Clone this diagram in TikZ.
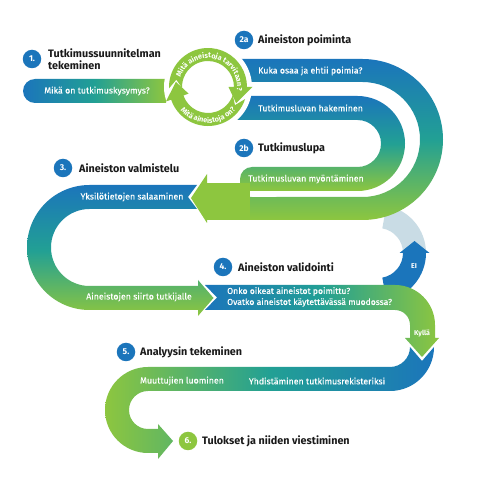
\documentclass[tikz,border=0pt]{standalone}
\usepackage{fontspec}
\setmainfont{Fira Sans}
\newfontfamily\bandfont{Fira Sans}[FakeBold=0.25]
\usetikzlibrary{decorations.text}
\definecolor{cblue}{HTML}{1B75BB}
\definecolor{cteal}{HTML}{22A094}
\definecolor{cgreen}{HTML}{8DC63F}
\definecolor{clight}{HTML}{C9DCE5}
\definecolor{ctitle}{HTML}{1A1A1A}
\newcommand\ringfont{\color{white}\bfseries\fontsize{7.3}{8}\selectfont}
\begin{document}
\begin{tikzpicture}[x=1pt,y=1pt,
  numc/.style={circle,fill=cblue,minimum size=18.5pt,inner sep=0pt,text=white,font=\bfseries\fontsize{8.5}{8.5}\selectfont},
  ttl/.style={anchor=west,inner sep=0pt,text=ctitle,font=\bfseries\fontsize{10.8}{12}\selectfont,align=left},
  btxt/.style={inner sep=0pt,text=white,font=\bandfont\fontsize{8.8}{10}\selectfont},
  vgrad/.style={top color=cblue,bottom color=cgreen,middle color=cteal},
  hgradBG/.style={left color=cblue,right color=cgreen,middle color=cteal},
  hgradGB/.style={left color=cgreen,right color=cblue,middle color=cteal},
  smalllbl/.style={inner sep=0pt,text=white,font=\bfseries\fontsize{7}{8}\selectfont},
]
\fill[white] (0,0) rectangle (480,483);
\useasboundingbox (0,0) rectangle (480,483);

% EI return ring
\begin{scope}[shift={(378,230)}]
  \fill[clight] (0:48) arc[start angle=0,end angle=80,radius=48] -- (80:25) arc[start angle=80,end angle=0,radius=25] -- cycle;
  \fill[cblue] (-80:25) -- (-80:48) arc[start angle=-80,end angle=0,radius=48] -- (51.5,0) -- (36.5,12) -- (21.5,0) -- (25,0) arc[start angle=0,end angle=-80,radius=25] -- cycle;
\end{scope}

% 2a / 2b : outer and inner U
\shade[vgrad] (230,424) -- (362.5,424) arc[start angle=90,end angle=-90,radius=80.5] -- (245,263) -- (245,286) -- (362.5,286) arc[start angle=-90,end angle=90,radius=57.5] -- (230,401) -- cycle;
\shade[vgrad] (230,387) -- (357.5,387) arc[start angle=90,end angle=-90,radius=47.5] -- (240,292) -- (240,304) arc[start angle=180,end angle=90,radius=12] -- (357.5,316) arc[start angle=-90,end angle=90,radius=23.5] -- (230,363) -- cycle;
\fill[cgreen] (206,263) rectangle (250,300);
\fill[cgreen] (191,285) -- (207,309) -- (207,260) -- cycle;
\draw[white,line width=6pt,line cap=round] (253,289) -- (275,289);

% band 1
\shade[hgradBG] (166,404) -- (35,404) arc[start angle=90,end angle=270,radius=12] -- (166,380) -- cycle;

% white gap round the cycle
\fill[white] (208,396) circle[radius=44];

% cycle arrows
\begin{scope}[shift={(208,396)}]
  \fill[cgreen] (182:39) arc[start angle=182,end angle=0,radius=39] -- (0:44.5) -- (-30:32.5) -- (0:20.5) -- (0:26) arc[start angle=0,end angle=182,radius=26] -- (167:32.5) -- cycle;
  \fill[cgreen] (-18:39) arc[start angle=-18,end angle=-161,radius=39] -- (-161:44.5) -- (-189:32.5) -- (-161:20.5) -- (-161:26) arc[start angle=-161,end angle=-18,radius=26] -- (-34:32.5) -- cycle;
  \path[decorate,decoration={text along path,text={|\ringfont|Mitä aineistoja tarvitaan?},text align=center}] (178:29) arc[start angle=178,end angle=-24,radius=29];
  \path[decorate,decoration={text along path,text={|\ringfont|Mitä aineistoja on?},text align=center}] (195:36) arc[start angle=195,end angle=345,radius=36];
\end{scope}

% band 3
\shade[vgrad] (197,298) -- (89.5,298) arc[start angle=90,end angle=270,radius=62.5] -- (198,173) -- (198,167) -- (213.5,185) -- (198,203) -- (198,197) -- (89.5,197) arc[start angle=270,end angle=90,radius=38.5] -- (197,274) -- (188,286) -- cycle;

% band 4
\shade[hgradBG] (205,198) -- (395,198) arc[start angle=90,end angle=0,radius=40] -- (435,145) -- (439,145) -- (422,126) -- (405,145) -- (410,145) -- (410,158) arc[start angle=0,end angle=90,radius=15] -- (205,173) -- (217,185.5) -- cycle;

% band 5
\shade[hgradGB] (434,136) arc[start angle=0,end angle=-90,radius=44] -- (148,92) arc[start angle=90,end angle=270,radius=19] -- (158,54) -- (158,59) -- (173,42) -- (158,24) -- (158,30) -- (148,30) arc[start angle=270,end angle=90,radius=43] -- (390,116) arc[start angle=-90,end angle=0,radius=20] -- (422,122) -- cycle;

% number circles and titles
\node[numc] (n1) at (32,424) {1.};
\node[ttl] (t1) at (48,424) {Tutkimussuunnitelman\\tekeminen};
\node[numc] (n2a) at (244,443) {2a};
\node[ttl] (t2a) at (258,443) {Aineiston poiminta};
\node[numc] (n2b) at (244,335) {2b};
\node[ttl] (t2b) at (258,335) {Tutkimuslupa};
\node[numc] (n3) at (63,315) {3.};
\node[ttl] (t3) at (79,315) {Aineiston valmistelu};
\node[numc] (n4) at (223,216) {4.};
\node[ttl] (t4) at (238,216) {Aineiston validointi};
\node[numc] (n5) at (126,131) {5.};
\node[ttl] (t5) at (140,131) {Analyysin tekeminen};
\node[numc,fill=cgreen] (n6) at (188,42) {6.};
\node[ttl] (t6) at (202,42) {Tulokset ja niiden viestiminen};

% band texts
\node[btxt] (b1) at (97,392) {Mikä on tutkimuskysymys?};
\node[btxt,anchor=west] (b2a) at (258,412) {Kuka osaa ja ehtii poimia?};
\node[btxt,anchor=west] (b2h) at (258,375) {Tutkimusluvan hakeminen};
\node[btxt,anchor=west] (b2b) at (248,304) {Tutkimusluvan myöntäminen};
\node[btxt] (b3a) at (132,286) {Yksilötietojen salaaminen};
\node[btxt] (b3b) at (139,186) {Aineistojen siirto tutkijalle};
\node[btxt,anchor=west,align=left,font=\bandfont\fontsize{8.6}{11}\selectfont] (b4) at (227,186) {Onko oikeat aineistot poimittu?\\Ovatko aineistot käytettävässä muodossa?};
\node[smalllbl] (ei) at (414,217) {EI};
\node[smalllbl] (kylla) at (422,150) {Kyllä};
\node[btxt] (b5a) at (182,102) {Muuttujien luominen};
\node[btxt] (b5b) at (317,102) {Yhdistäminen tutkimusrekisteriksi};
\end{tikzpicture}
\end{document}
